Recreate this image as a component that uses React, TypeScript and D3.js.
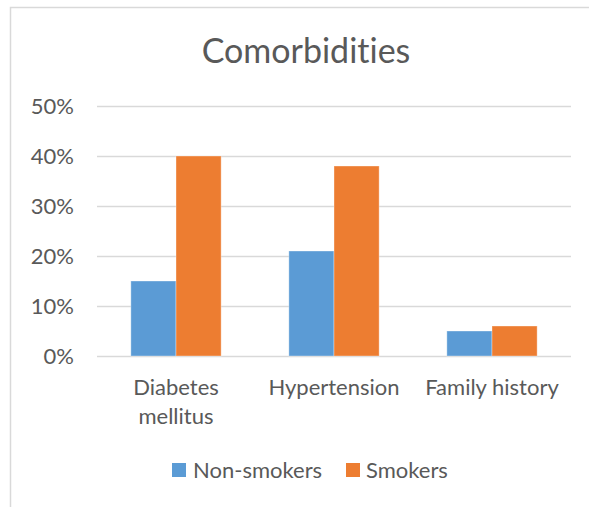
import React from 'react';
import * as d3 from 'd3';

// chart data
const categories = ['Diabetes mellitus', 'Hypertension', 'Family history'];
const seriesNames = ['Non-smokers', 'Smokers'];
const nonSmokers = [15, 21, 5];
const smokers = [40, 38, 6];
const yTicks = [0, 10, 20, 30, 40, 50];

const colors = ['#5B9BD5', '#ED7D31'];
const textColor = '#595959';
const gridColor = '#d9d9d9';
const font = 'Lato, "Open Sans", sans-serif';

const W = 589;
const H = 507;
const plot = { left: 97, right: 571, top: 106, bottom: 356 };

// greedy word wrap by character count
function wrap(label: string, maxChars: number) {
  const words = label.split(' ');
  const lines: string[] = [];
  let cur = '';
  words.forEach(w => {
    const next = cur ? cur + ' ' + w : w;
    if (next.length > maxChars && cur) {
      lines.push(cur);
      cur = w;
    } else {
      cur = next;
    }
  });
  if (cur) lines.push(cur);
  return lines;
}

export default function App() {
  const values = [nonSmokers, smokers];

  const x = d3.scaleBand<string>()
    .domain(categories)
    .range([plot.left, plot.right])
    .padding(0);

  const xInner = d3.scaleBand<string>()
    .domain(seriesNames)
    .range([0, x.bandwidth()])
    .paddingInner(0)
    .paddingOuter(0.75);

  const y = d3.scaleLinear()
    .domain([0, 50])
    .range([plot.bottom, plot.top]);

  return (
    <svg width={W} height={H} style={{ display: 'block', position: 'absolute', left: 0, top: 0, fontVariantLigatures: 'none' }}
      fontFamily={font}>
      <rect x={0} y={0} width={W} height={H} fill="#fff" />
      {/* chart area border, cropped on the right and bottom */}
      <rect x={10.5} y={7.5} width={W + 20} height={H + 20} fill="none" stroke={gridColor} strokeWidth={1.5} />

      <text x={306} y={63} textAnchor="middle" fontSize={34} fill={textColor}>Comorbidities</text>

      {/* gridlines and y labels */}
      {yTicks.map(t => (
        <g key={t}>
          <line x1={plot.left} x2={plot.right} y1={Math.round(y(t)) + 0.5} y2={Math.round(y(t)) + 0.5}
            stroke={gridColor} strokeWidth={1.5} />
          <text x={74} y={y(t)} dy="0.35em" textAnchor="end" fontSize={22} fill={textColor}>{t}%</text>
        </g>
      ))}

      {/* bars */}
      {categories.map((c, i) => (
        <g key={c} transform={`translate(${x(c)},0)`}>
          {seriesNames.map((s, j) => (
            <rect key={s}
              x={xInner(s)}
              y={y(values[j][i])}
              width={xInner.bandwidth()}
              height={y(0) - y(values[j][i])}
              fill={colors[j]}
              stroke="#fff"
              strokeOpacity={0.35}
              strokeWidth={1}
            />
          ))}
        </g>
      ))}

      {/* category labels */}
      {categories.map(c => (
        <text key={c} x={(x(c) ?? 0) + x.bandwidth() / 2} y={395} textAnchor="middle" fontSize={22} fill={textColor}>
          {wrap(c, 15).map((line, k) => (
            <tspan key={k} x={(x(c) ?? 0) + x.bandwidth() / 2} dy={k === 0 ? 0 : 29}>{line}</tspan>
          ))}
        </text>
      ))}

      {/* legend */}
      <g>
        <rect x={172} y={463} width={14} height={14} fill={colors[0]} />
        <text x={193} y={470} dy="0.35em" fontSize={22} fill={textColor}>{seriesNames[0]}</text>
        <rect x={346} y={463} width={14} height={14} fill={colors[1]} />
        <text x={366} y={470} dy="0.35em" fontSize={22} fill={textColor}>{seriesNames[1]}</text>
      </g>
    </svg>
  );
}
